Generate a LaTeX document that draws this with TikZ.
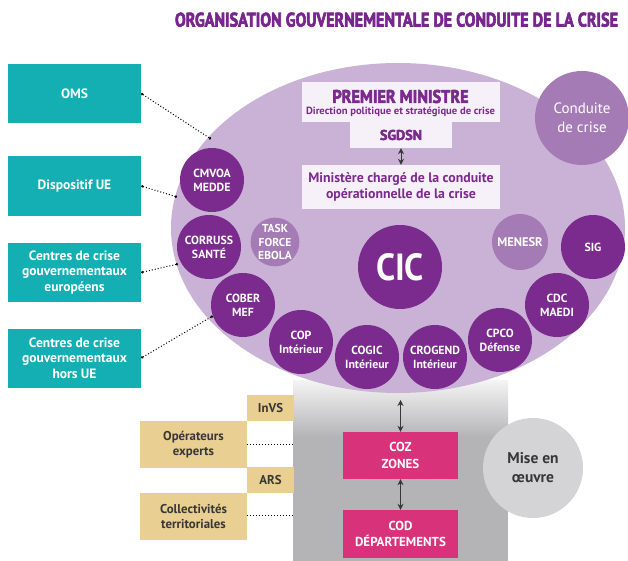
\documentclass[tikz,border=0pt]{standalone}
\usepackage{fontspec}
\setmainfont{PT Sans}
\newfontfamily\heavyfont{PT Sans}[UprightFont=* Bold, BoldFont=* Bold, FakeBold=3.5]
\usepackage{graphicx}
\usetikzlibrary{shapes.geometric,arrows.meta}
\definecolor{ptitle}{RGB}{118,38,140}
\definecolor{dpurple}{RGB}{123,42,142}
\definecolor{lpurple}{RGB}{165,123,182}
\definecolor{ellc}{RGB}{201,178,214}
\definecolor{tealc}{RGB}{20,175,179}
\definecolor{pinkc}{RGB}{216,50,122}
\definecolor{tanc}{RGB}{233,207,145}
\definecolor{greyc}{RGB}{180,180,183}
\definecolor{greylt}{RGB}{244,244,244}
\definecolor{greycirc}{RGB}{212,212,214}
\definecolor{boxw}{RGB}{246,241,248}
\definecolor{darktxt}{RGB}{55,55,55}
\begin{document}
\begin{tikzpicture}[x=1pt,y=-1pt,
  dcirc/.style={circle, fill=dpurple, minimum size=64pt, inner sep=0pt, text=white,
    font=\bfseries\fontsize{11.8}{14}\selectfont, align=center},
  lcirc/.style={circle, fill=lpurple, inner sep=0pt, text=white,
    font=\bfseries\fontsize{11.5}{13.5}\selectfont, align=center},
  tealbox/.style={rectangle, fill=tealc, inner sep=0pt, minimum width=133pt, minimum height=59pt,
    text=white, font=\bfseries\fontsize{13.5}{15.5}\selectfont, align=center},
  tanbox/.style={rectangle, fill=tanc, inner sep=0pt, text=darktxt,
    font=\bfseries\fontsize{12.8}{15}\selectfont, align=center},
  pinkbox/.style={rectangle, fill=pinkc, inner sep=0pt, minimum width=115pt, minimum height=47pt,
    text=white, font=\bfseries\fontsize{13}{16.5}\selectfont, align=center},
  wbox/.style={rectangle, fill=boxw, inner sep=0pt},
  link/.style={dotted, line width=1pt, black, {Circle[length=2.4pt]}-{Circle[length=2.4pt]}},
  dlink/.style={dotted, line width=1pt, black},
  dbl/.style={line width=1pt, darktxt, {Stealth[length=6pt,width=6pt]}-{Stealth[length=6pt,width=6pt]}}
]
\useasboundingbox (0,0) rectangle (628,561);

% title
\node[text=ptitle] (title) at (396.5,19.7) {\resizebox{443pt}{14pt}{\heavyfont ORGANISATION GOUVERNEMENTALE DE CONDUITE DE LA CRISE}};

% grey area
\node[rectangle, fill=greyc, minimum width=215pt, minimum height=181pt, inner sep=0pt] (grey) at (400.5,470.5) {};
\shade[top color=greylt, bottom color=greyc] (293,380) rectangle (508,437);

% big ellipse
\node[ellipse, fill=ellc, minimum width=454pt, minimum height=330pt, inner sep=0pt] (ell) at (398,228) {};

% conduite de crise
\node[circle, fill=lpurple, minimum size=94pt, inner sep=0pt, text=white,
  font=\fontsize{15}{19.5}\selectfont, align=center] (cdc) at (582,118) {Conduite\\de crise};

% white T box
\node[wbox, minimum width=198pt, minimum height=40pt] (pm) at (401,102) {};
\node[wbox, minimum width=102pt, minimum height=27pt] (sgdsn) at (401,134.5) {};
\node[wbox, minimum width=198pt, minimum height=44pt, text=dpurple,
  font=\bfseries\fontsize{13.8}{15.5}\selectfont, align=center] (min) at (401,187)
  {Ministère chargé de la conduite\\opérationnelle de la crise};
\node[text=dpurple, inner sep=0pt] (pmt) at (400.5,96.5) {\resizebox{136pt}{13pt}{\heavyfont PREMIER MINISTRE}};
\node[text=dpurple, inner sep=0pt, anchor=base] (pms) at (400.5,115) {\resizebox{189pt}{7.5pt}{\bfseries Direction politique et stratégique de crise}};
\node[text=dpurple, inner sep=0pt] (sgt) at (401,135) {\resizebox{42pt}{10pt}{\heavyfont SGDSN}};
\draw[dbl] (sgdsn.south) -- (min.north);

% circles
\node[dcirc] (cmvoa) at (212,180) {CMVOA\\MEDDE};
\node[dcirc] (corruss) at (209,247) {CORRUSS\\SANTÉ};
\node[lcirc, minimum size=47pt] (task) at (275,242) {TASK\\FORCE\\EBOLA};
\node[dcirc] (cober) at (243,305) {COBER\\MEF};
\node[dcirc] (cop) at (301,342) {COP\\Intérieur};
\node[dcirc] (cogic) at (367,357) {COGIC\\Intérieur};
\node[dcirc] (crogend) at (435,357) {CROGEND\\Intérieur};
\node[dcirc] (cpco) at (500,340) {CPCO\\Défense};
\node[dcirc] (cdcm) at (557,305) {CDC\\MAEDI};
\node[dcirc] (sig) at (593,247) {SIG};
\node[lcirc, minimum size=56pt, font=\bfseries\fontsize{12.5}{14}\selectfont] (menesr) at (520,242) {MENESR};
\node[circle, fill=dpurple, minimum size=84pt, inner sep=0pt, text=white] (cic) at (400,267)
  {\resizebox{48pt}{27pt}{\bfseries CIC}};

% teal boxes
\node[tealbox] (oms) at (74.5,93.5) {OMS};
\node[tealbox] (due) at (74.5,186) {Dispositif UE};
\node[tealbox] (eur) at (74.5,272.5) {Centres de crise\\gouvernementaux\\européens};
\node[tealbox] (hue) at (74.5,358) {Centres de crise\\gouvernementaux\\hors UE};

\coordinate (e1) at (211,139);
\coordinate (e2) at (177,197);
\coordinate (e3) at (178,264);
\draw[link] (oms.east) -- (e1);
\draw[link] (due.east) -- (e2);
\draw[link] (eur.east) -- (e3);
\draw[link] (hue.east) -- (cober.200);

% bottom
\node[pinkbox] (coz) at (400.5,455.5) {COZ\\ZONES};
\node[pinkbox, minimum height=48pt] (cod) at (400.5,534) {COD\\DÉPARTEMENTS};
\coordinate (ctop) at (400.5,400);
\draw[dbl] (ctop) -- (coz.north);
\draw[dbl] (coz.south) -- (cod.north);

\node[circle, fill=greycirc, minimum size=100pt, inner sep=0pt, text=darktxt,
  font=\bfseries\fontsize{15.5}{19}\selectfont, align=center] (mise) at (533,468) {Mise en\\œuvre};

\node[tanbox, minimum width=47pt, minimum height=26pt] (invs) at (270.5,408) {InVS};
\node[tanbox, minimum width=107pt, minimum height=47pt] (opex) at (193.5,444.5) {Opérateurs\\experts};
\node[tanbox, minimum width=47pt, minimum height=26pt] (ars) at (270.5,480) {ARS};
\node[tanbox, minimum width=107pt, minimum height=47pt] (coll) at (193.5,516.5) {Collectivités\\territoriales};
\draw[dlink] (opex.east) -- (opex.east -| grey.west);
\draw[dlink] ([yshift=1.5pt]coll.east) -- ([yshift=1.5pt]coll.east -| grey.west);
\end{tikzpicture}
\end{document}
